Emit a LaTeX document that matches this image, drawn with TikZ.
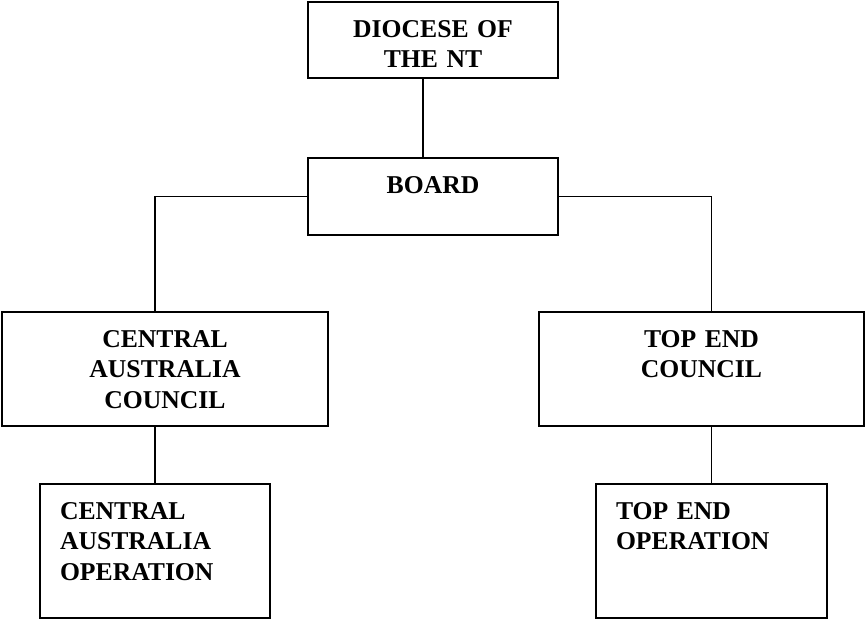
\documentclass[tikz,border=0pt]{standalone}
\usepackage{fontspec}
\setmainfont{Liberation Serif}
\usetikzlibrary{positioning}

\begin{document}
\begin{tikzpicture}[font=\fontsize{14.6}{17.6}\selectfont\bfseries,
  box/.style={draw,line width=0.9pt,inner xsep=0.4cm,inner ysep=0pt,text height=0.7cm},
  ctr/.style={box,align=center},
  lft/.style={box,align=left},
  link/.style={line width=0.9pt}]
  \useasboundingbox (0,0) rectangle (17.32,-12.4);
  \node[ctr,text width=4.2cm,text depth=0.82cm] (dio) at (8.66,-0.8) {DIOCESE OF\\THE NT};
  \node[ctr,text width=4.2cm,text depth=0.84cm] (board) at (8.66,-3.93) {BOARD};
  \node[ctr,text width=5.72cm,text depth=1.58cm] (cac) at (3.3,-7.38) {CENTRAL\\AUSTRALIA\\COUNCIL};
  \node[ctr,text width=5.7cm,text depth=1.58cm] (tec) at (14.03,-7.38) {TOP END\\COUNCIL};
  \node[lft,text width=3.8cm,text depth=1.98cm] (cao) at (3.1,-11.02) {CENTRAL\\AUSTRALIA\\OPERATION};
  \node[lft,text width=3.82cm,text depth=1.98cm] (teo) at (14.23,-11.02) {TOP END\\OPERATION};
  \draw[link] ([xshift=-0.2cm]dio.south) -- ([xshift=-0.2cm]board.north);
  \draw[link] (board.west) -| (cac.north -| cao.north);
  \draw[link] (board.east) -| (tec.north -| teo.north);
  \draw[link] (cao.north |- cac.south) -- (cao.north);
  \draw[link] (teo.north |- tec.south) -- (teo.north);
\end{tikzpicture}
\end{document}
